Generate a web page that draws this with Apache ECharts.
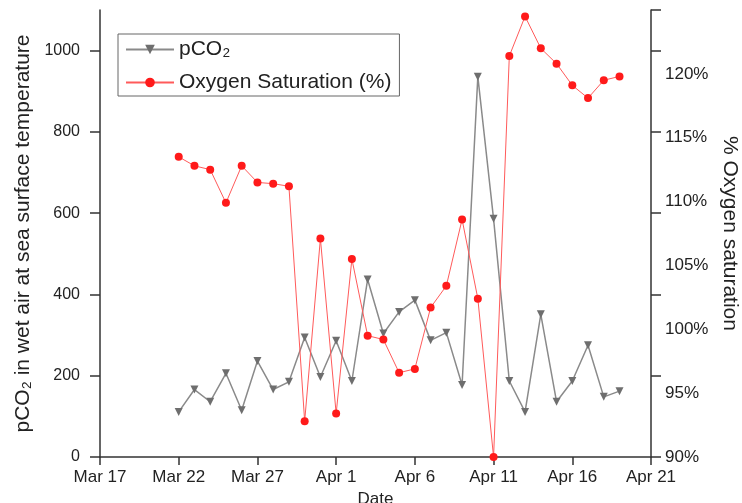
<!DOCTYPE html>
<html>
<head>
<meta charset="utf-8">
<script src="https://cdn.jsdelivr.net/npm/echarts@6/dist/echarts.min.js"></script>
<style>
  html, body { margin: 0; padding: 0; background: #fff; }
  #chart { width: 742px; height: 503px; }
</style>
</head>
<body>
<div id="chart"></div>
<script>
// daily samples, Mar 22 .. Apr 19
const dates = [
  '03-22', '03-23', '03-24', '03-25', '03-26', '03-27', '03-28', '03-29', '03-30', '03-31',
  '04-01', '04-02', '04-03', '04-04', '04-05', '04-06', '04-07', '04-08', '04-09', '04-10',
  '04-11', '04-12', '04-13', '04-14', '04-15', '04-16', '04-17', '04-18', '04-19'
];
const pco2 = [
  111, 166, 136, 206, 115, 236, 166, 185, 294, 197,
  286, 187, 437, 304, 357, 386, 287, 306, 177, 936,
  586, 187, 111, 351, 136, 187, 275, 148, 162
];
const oxygen = [
  113.5, 112.8, 112.5, 109.9, 112.8, 111.5, 111.4, 111.2, 92.8, 107.1,
  93.4, 105.5, 99.5, 99.2, 96.6, 96.9, 101.7, 103.4, 108.6, 102.4,
  90.0, 121.4, 124.5, 122.0, 120.8, 119.1, 118.1, 119.5, 119.8
];
const xTickLabels = ['Mar 17', 'Mar 22', 'Mar 27', 'Apr 1', 'Apr 6', 'Apr 11', 'Apr 16', 'Apr 21'];

const FONT = '"Liberation Sans", Arial, sans-serif';
const origin = Date.UTC(2012, 2, 17);
function dayOf(s) {
  const [m, d] = s.split('-').map(Number);
  return Math.round((Date.UTC(2012, m - 1, d) - origin) / 86400000);
}
const days = dates.map(dayOf);

const myChart = echarts.init(document.getElementById('chart'));
const axisLine = { show: true, lineStyle: { color: '#333', width: 1.5 } };

let option = {
  animation: false,
  textStyle: { fontFamily: FONT },
  grid: { left: 100, right: 91, top: 10, bottom: 46, containLabel: false, outerBoundsMode: 'none' },
  legend: {
    orient: 'vertical',
    left: 118,
    top: 34,
    padding: [5, 8, 3, 7],
    itemGap: 12,
    itemWidth: 48,
    itemHeight: 12,
    borderColor: '#666',
    borderWidth: 1,
    textStyle: { fontFamily: FONT, fontSize: 21, color: '#222' },
    data: ['pCO₂', 'Oxygen Saturation (%)'],
  },
  xAxis: {
    type: 'value',
    min: 0,
    max: 35,
    interval: 5,
    name: 'Date',
    nameLocation: 'middle',
    nameGap: 32,
    nameTextStyle: { fontSize: 17, color: '#222' },
    axisLine: axisLine,
    axisTick: { show: true, length: 8, lineStyle: { color: '#333', width: 1.5 } },
    axisLabel: {
      margin: 12,
      fontSize: 17,
      color: '#222',
      formatter: (v) => xTickLabels[Math.round(v / 5)] || '',
    },
    splitLine: { show: false },
  },
  yAxis: [
    {
      type: 'value',
      position: 'left',
      min: 0,
      max: 1100,
      interval: 200,
      name: 'pCO₂ in wet air at sea surface temperature',
      nameLocation: 'middle',
      nameGap: 57,
      nameTextStyle: { fontSize: 21, color: '#222' },
      axisLine: axisLine,
      axisTick: { show: true, length: 10, lineStyle: { color: '#333', width: 1.5 } },
      axisLabel: { margin: 20, fontSize: 16, color: '#222', showMaxLabel: false, formatter: (v) => String(v) },
      splitLine: { show: false },
    },
    {
      type: 'value',
      position: 'right',
      min: 90,
      max: 125,
      interval: 5,
      name: '% Oxygen saturation',
      nameLocation: 'middle',
      nameGap: 66,
      nameRotate: -90,
      nameTextStyle: { fontSize: 21, color: '#222' },
      axisLine: axisLine,
      axisTick: { show: false },
      axisLabel: {
        margin: 14,
        fontSize: 17,
        color: '#222',
        showMaxLabel: false,
        formatter: (v) => (v >= 125 ? '' : v + '%'),
      },
      splitLine: { show: false },
    },
    {
      // tick marks on the right spine follow the left scale in the original
      type: 'value',
      position: 'right',
      min: 0,
      max: 1100,
      interval: 200,
      axisLine: { show: false },
      axisTick: { show: true, length: 10, lineStyle: { color: '#333', width: 1.5 } },
      axisLabel: { show: false },
      splitLine: { show: false },
    },
  ],
  series: [
    {
      name: 'pCO₂',
      type: 'line',
      yAxisIndex: 0,
      data: days.map((d, i) => [d, pco2[i]]),
      symbol: 'triangle',
      symbolRotate: 180,
      symbolSize: 8,
      itemStyle: { color: '#6e6e6e' },
      lineStyle: { color: '#8a8a8a', width: 1.5 },
      z: 2,
    },
    {
      name: 'Oxygen Saturation (%)',
      type: 'line',
      yAxisIndex: 1,
      data: days.map((d, i) => [d, oxygen[i]]),
      symbol: 'circle',
      symbolSize: 8,
      itemStyle: { color: '#ff1a1a' },
      lineStyle: { color: '#ff5a5a', width: 1 },
      z: 3,
    },
  ],
};
option && myChart.setOption(option);
</script>
</body>
</html>
